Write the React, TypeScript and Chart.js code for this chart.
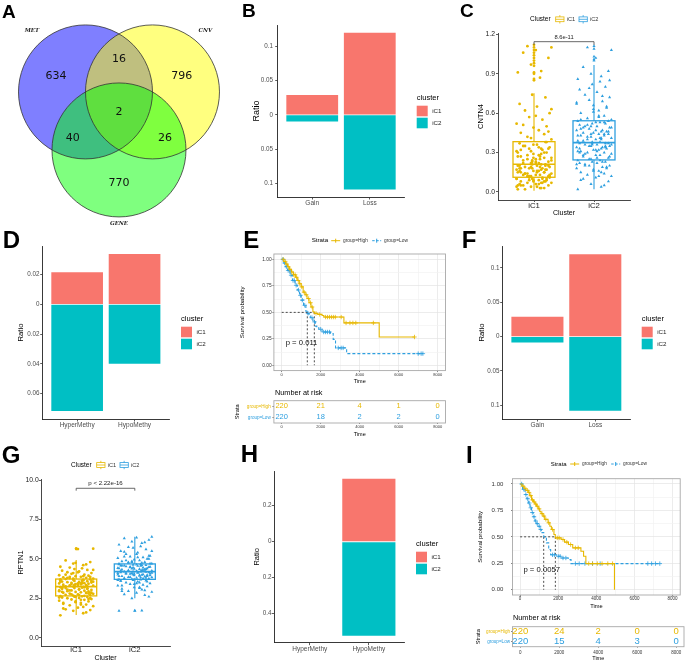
import React, { useEffect, useRef } from 'react';
import { Chart, registerables } from 'chart.js';

Chart.register(...registerables);

const FF = "'Liberation Sans', Arial, Helvetica, sans-serif";
const RED = '#F8766D';
const TEAL = '#00BFC4';
const GOLD = '#E7B800';
const BLUE = '#2E9FDF';

// ================= DATA =================
// A: Venn (regions: MET only, CNV only, GENE only, MET&CNV, MET&GENE, CNV&GENE, all three)
const vennSets = ['MET', 'CNV', 'GENE'];
const vennCounts = [634, 796, 770, 16, 40, 26, 2];

// B: CNV ratio
const bCats = ['Gain', 'Loss'];
const bIC1 = [0.029, 0.12];
const bIC2 = [-0.0095, -0.109];
const bTicks = [-0.1, -0.05, 0, 0.05, 0.1];

// C: CNTN4 expression
const clusters = ['iC1', 'iC2'];
const cIC1 = [
  0.02, 0.03, 0.04, 0.05, 0.05, 0.06, 0.07, 0.07, 0.08, 0.08, 0.09, 0.09, 0.1, 0.1, 0.1, 0.11, 0.11, 0.02, 0.04, 0.06, 0.08, 0.1, 0.03, 0.05, 0.07,
  0.12, 0.12, 0.13, 0.13, 0.14, 0.14, 0.15, 0.15, 0.16, 0.16, 0.17, 0.17, 0.18, 0.18, 0.19, 0.19, 0.2, 0.2, 0.21, 0.21, 0.13, 0.15, 0.17, 0.19, 0.2,
  0.22, 0.23, 0.24, 0.25, 0.26, 0.27, 0.28, 0.29, 0.3, 0.31, 0.32, 0.33, 0.34, 0.35, 0.36, 0.37, 0.38, 0.23, 0.25, 0.27, 0.29, 0.31, 0.33, 0.35, 0.22,
  0.4, 0.42, 0.44, 0.45, 0.47, 0.49, 0.5, 0.52, 0.55, 0.57, 0.6, 0.62, 0.65, 0.67, 0.72, 0.74, 0.87, 0.91, 0.92, 0.97, 1.02, 1.06, 1.08, 1.1, 1.11,
  0.03, 0.05, 0.06, 0.08, 0.09, 0.1, 0.11, 0.12, 0.13, 0.14, 0.15, 0.16, 0.17, 0.18, 0.19, 0.2, 0.21, 0.22, 0.23, 0.24, 0.25, 0.26, 0.28, 0.3, 0.32,
  0.34, 0.36, 0.38, 0.04, 0.07, 0.09, 0.12, 0.14, 0.16, 0.18, 0.2, 0.24, 0.27, 0.3, 0.33, 0.41, 0.46, 0.51, 0.58, 0.63, 0.12, 0.15, 0.18, 0.22, 0.26,
];
const cIC2 = [
  0.02, 0.04, 0.06, 0.08, 0.1, 0.11, 0.12, 0.13, 0.14, 0.15, 0.16, 0.17, 0.18, 0.18, 0.19, 0.2, 0.2, 0.21, 0.22, 0.22, 0.23, 0.23, 0.24, 0.24, 0.15,
  0.25, 0.26, 0.27, 0.28, 0.29, 0.3, 0.3, 0.31, 0.32, 0.32, 0.33, 0.34, 0.34, 0.35, 0.35, 0.36, 0.36, 0.37, 0.37, 0.38, 0.28, 0.31, 0.33, 0.35, 0.37,
  0.39, 0.4, 0.41, 0.42, 0.43, 0.43, 0.44, 0.45, 0.46, 0.47, 0.47, 0.48, 0.49, 0.5, 0.5, 0.51, 0.52, 0.52, 0.53, 0.54, 0.41, 0.44, 0.46, 0.49, 0.53,
  0.55, 0.56, 0.58, 0.6, 0.62, 0.63, 0.65, 0.67, 0.69, 0.7, 0.72, 0.74, 0.76, 0.78, 0.8, 0.82, 0.84, 0.86, 0.88, 0.9, 0.92, 0.95, 1.02, 1.08, 1.1,
  0.05, 0.09, 0.12, 0.16, 0.19, 0.21, 0.23, 0.25, 0.27, 0.29, 0.31, 0.33, 0.35, 0.36, 0.38, 0.39, 0.4, 0.42, 0.44, 0.45, 0.47, 0.49, 0.51, 0.53, 0.55,
  0.58, 0.61, 0.64, 0.68, 0.73, 0.79, 0.85, 0.2, 0.26, 0.3, 0.34, 0.37, 0.41, 0.43, 0.46, 0.5, 0.54, 0.28, 0.32, 0.36, 0.4, 0.44, 0.48, 0.57, 0.66,
];
const cOut1 = [0.85, 0.86, 0.9, 0.91, 0.96, 0.98, 1.0, 1.02, 1.04, 1.06, 1.08, 1.1, 1.12];
const cOut2 = [1.0, 1.01, 1.03, 1.09, 1.11];
const cBox1 = [0.01, 0.112, 0.211, 0.383, 0.751]; // lower whisker, Q1, median, Q3, upper whisker
const cBox2 = [0.02, 0.244, 0.376, 0.542, 0.967];
const cTicks = [0, 0.3, 0.6, 0.9, 1.2];
const cPval = '8.6e-11';

// D: methylation ratio
const dCats = ['HyperMethy', 'HypoMethy'];
const dIC1 = [0.0217, 0.0339];
const dIC2 = [-0.0718, -0.04];
const dTicks = [-0.06, -0.04, -0.02, 0, 0.02];

// E: survival
const strata = ['group=High', 'group=Low'];
const eHighT = [0, 100, 200, 300, 400, 500, 600, 700, 800, 900, 1000, 1100, 1200, 1300, 1400, 1500, 1600, 1670, 1850, 2070, 2160, 3190, 5000, 6810];
const eHighS = [1, 0.98, 0.955, 0.93, 0.905, 0.88, 0.855, 0.83, 0.8, 0.77, 0.74, 0.69, 0.665, 0.63, 0.59, 0.55, 0.505, 0.49, 0.48, 0.47, 0.455, 0.4, 0.267, 0.267];
const eLowT = [0, 100, 200, 300, 430, 550, 690, 800, 915, 1000, 1120, 1240, 1310, 1400, 1465, 1600, 1724, 1800, 1900, 2070, 2500, 2640, 2760, 3330, 7240];
const eLowS = [1, 0.965, 0.93, 0.895, 0.85, 0.8, 0.755, 0.71, 0.66, 0.615, 0.566, 0.51, 0.49, 0.465, 0.45, 0.41, 0.37, 0.355, 0.34, 0.314, 0.3, 0.245, 0.164, 0.11, 0.11];
const eHighCens = [80, 180, 260, 340, 420, 520, 610, 690, 760, 850, 930, 1030, 1150, 1260, 1380, 1480, 1560, 1760, 1950, 2250, 2350, 2450, 2550, 2650, 2750, 3050, 3300, 3500, 3650, 3800, 4700, 6810];
const eLowCens = [60, 150, 240, 330, 390, 480, 580, 650, 740, 860, 960, 1060, 1180, 1350, 1550, 1680, 2000, 2150, 2250, 2350, 2450, 2900, 3050, 3150, 7000, 7150, 7240];
const ePval = 'p = 0.011';
const riskTimes = [0, 2000, 4000, 6000, 8000];
const eRiskHigh = [220, 21, 4, 1, 0];
const eRiskLow = [220, 18, 2, 2, 0];

// F: CNV ratio
const fCats = ['Gain', 'Loss'];
const fIC1 = [0.029, 0.12];
const fIC2 = [-0.0087, -0.108];
const fTicks = [-0.1, -0.05, 0, 0.05, 0.1];

// G: RFTN1 expression
const gIC1 = [
  1.42, 1.55, 1.7, 1.75, 1.8, 1.9, 2.0, 2.05, 2.1, 2.15, 2.2, 2.25, 2.3, 2.35, 2.4, 2.42, 2.45, 2.5, 2.52, 2.55, 2.58, 2.6, 2.62, 2.64, 1.95,
  2.67, 2.7, 2.72, 2.75, 2.78, 2.8, 2.83, 2.85, 2.88, 2.9, 2.93, 2.95, 2.98, 3.0, 3.03, 3.05, 3.08, 3.1, 3.12, 3.15, 3.17, 3.2, 3.22, 3.24, 2.86,
  3.26, 3.28, 3.3, 3.32, 3.34, 3.36, 3.38, 3.4, 3.42, 3.44, 3.46, 3.48, 3.5, 3.52, 3.54, 3.56, 3.58, 3.6, 3.62, 3.64, 3.66, 3.68, 3.7, 3.72, 3.45,
  3.75, 3.78, 3.8, 3.83, 3.86, 3.9, 3.93, 3.96, 4.0, 4.05, 4.1, 4.15, 4.2, 4.25, 4.3, 4.35, 4.4, 4.5, 4.6, 4.7, 4.8, 4.9, 5.62, 5.65, 3.85,
  1.6, 1.85, 2.1, 2.3, 2.45, 2.55, 2.65, 2.75, 2.85, 2.95, 3.05, 3.15, 3.25, 3.35, 3.45, 3.55, 3.65, 3.75, 3.85, 4.0, 4.15, 4.3, 4.45, 4.65, 2.2,
  2.4, 2.6, 2.8, 3.0, 3.2, 3.4, 3.6, 3.8, 2.7, 2.9, 3.1, 3.3, 3.5, 3.7, 3.9, 4.1, 2.5, 3.15, 3.35, 3.55, 3.0, 2.85, 3.25, 3.45, 4.75,
];
const gIC2 = [
  1.7, 1.72, 2.5, 2.6, 2.75, 2.85, 2.9, 2.95, 3.0, 3.1, 3.15, 3.2, 3.25, 3.3, 3.35, 3.4, 3.45, 3.5, 3.55, 3.6, 3.62, 3.65, 3.68, 3.7, 3.05,
  3.72, 3.75, 3.78, 3.8, 3.83, 3.85, 3.88, 3.9, 3.92, 3.95, 3.97, 4.0, 4.02, 4.05, 4.07, 4.1, 4.12, 4.15, 4.17, 4.19, 3.82, 3.9, 3.98, 4.08, 4.14,
  4.2, 4.22, 4.25, 4.27, 4.3, 4.32, 4.35, 4.37, 4.4, 4.42, 4.45, 4.47, 4.5, 4.52, 4.55, 4.57, 4.6, 4.62, 4.65, 4.68, 4.28, 4.38, 4.48, 4.58, 4.64,
  4.7, 4.75, 4.8, 4.85, 4.9, 4.95, 5.0, 5.05, 5.1, 5.15, 5.2, 5.3, 5.4, 5.5, 5.6, 5.7, 5.8, 5.9, 6.0, 6.1, 6.2, 6.3, 6.35, 6.4, 4.78,
  2.7, 2.95, 3.2, 3.4, 3.55, 3.65, 3.75, 3.85, 3.95, 4.05, 4.15, 4.25, 4.35, 4.45, 4.55, 4.65, 4.75, 4.85, 5.0, 5.15, 5.3, 5.5, 5.75, 6.05, 3.3,
  3.5, 3.7, 3.9, 4.1, 4.3, 4.5, 4.7, 4.9, 5.1, 3.6, 3.8, 4.0, 4.2, 4.4, 4.6, 4.8, 5.2, 5.45, 3.45, 4.12, 4.22, 4.33, 4.57, 3.98, 4.05,
];
const gOut1 = [5.62, 5.66];
const gOut2 = [1.7, 1.72];
const gBox1 = [1.44, 2.65, 3.24, 3.72, 4.93];
const gBox2 = [2.5, 3.7, 4.19, 4.68, 6.4];
const gTicks = [0, 2.5, 5, 7.5, 10];
const gPval = 'p < 2.22e-16';

// H: methylation ratio
const hCats = ['HyperMethy', 'HypoMethy'];
const hIC1 = [0, 0.35];
const hIC2 = [0, -0.522];
const hTicks = [-0.4, -0.2, 0, 0.2];

// I: survival
const iHighT = [0, 100, 200, 300, 430, 500, 600, 700, 780, 860, 950, 1030, 1100, 1200, 1290, 1465, 1560, 1640, 1775, 1845, 2155, 2330, 2535, 2760, 3190, 3330, 3450, 4950];
const iHighS = [1, 0.98, 0.96, 0.94, 0.92, 0.89, 0.85, 0.83, 0.81, 0.79, 0.765, 0.74, 0.72, 0.696, 0.665, 0.633, 0.6, 0.57, 0.522, 0.49, 0.475, 0.45, 0.427, 0.396, 0.364, 0.316, 0.247, 0];
const iLowT = [0, 130, 260, 350, 430, 520, 600, 690, 775, 860, 950, 1040, 1120, 1240, 1380, 1500, 1600, 1900, 2155, 2535, 2670, 7330];
const iLowS = [1, 0.95, 0.9, 0.86, 0.82, 0.775, 0.73, 0.69, 0.65, 0.625, 0.6, 0.57, 0.54, 0.5, 0.443, 0.38, 0.33, 0.316, 0.3, 0.285, 0.247, 0.247];
const iHighCens = [150, 250, 380, 470, 560, 650, 740, 820, 900, 1000, 1150, 1250, 1350, 1500, 1700, 1950, 2050, 2250, 2450, 2650, 2900, 3050, 3600, 3800, 4050, 4300, 4600, 4850];
const iLowCens = [80, 190, 300, 400, 480, 560, 640, 730, 820, 900, 1000, 1080, 1700, 1800, 2000, 2100, 2250, 2400, 2900, 3100, 3400, 3800, 4200, 6700, 6900, 7100, 7330];
const iPval = 'p = 0.0057';
const iRiskHigh = [220, 24, 2, 0, 0];
const iRiskLow = [220, 15, 4, 3, 0];

// ================= LAYOUT CONSTANTS =================
const VENN_CENTERS = [[-0.5, 0.289], [0.5, 0.289], [0, -0.577]];
const VENN_FILLS = ['rgba(0,0,255,0.5)', 'rgba(255,255,0,0.5)', 'rgba(0,255,0,0.5)'];
const VENN_COUNT_POS = [[-0.94, 0.527], [0.936, 0.527], [0, -1.075], [0, 0.776], [-0.69, -0.394], [0.687, -0.394], [0, -0.015]];
const VENN_NAME_POS = [[-1.3, 1.2], [1.29, 1.2], [0, -1.67]];
const JIT = [-0.27, 0.12, -0.05, 0.24, -0.18, 0.03, 0.29, -0.11, 0.17, -0.22, 0.08, -0.01, 0.21, -0.29, 0.14, -0.08, 0.26, -0.15, 0.05, -0.24, 0.19, -0.03, 0.1];
const KM_X_GRID = [0, 1000, 2000, 3000, 4000, 5000, 6000, 7000, 8000];
const KM_Y_GRID = [0, 0.125, 0.25, 0.375, 0.5, 0.625, 0.75, 0.875, 1];

// ================= HELPERS =================
function drawText(ctx: any, s: string, x: number, y: number, size: number, color: string, align = 'left', font = '') {
  ctx.font = font || `${size}px ${FF}`;
  ctx.fillStyle = color;
  ctx.textAlign = align;
  ctx.textBaseline = 'middle';
  ctx.fillText(s, x, y);
}

function letterPlugin(text: string, x: number, y: number, size: number) {
  return {
    id: 'panelLetter',
    afterDraw(chart: any) {
      const ctx = chart.ctx;
      ctx.save();
      drawText(ctx, text, x, y, size, '#000', 'left', `bold ${size}px ${FF}`);
      ctx.restore();
    },
  };
}

function clusterLegend(x: number, y: number) {
  return {
    id: 'clusterLegend',
    afterDraw(chart: any) {
      const ctx = chart.ctx;
      ctx.save();
      drawText(ctx, 'cluster', x, y, 7.6, '#000');
      chart.data.datasets.forEach((ds: any, i: number) => {
        const top = y + 7.7 + i * 12;
        ctx.fillStyle = ds.backgroundColor;
        ctx.fillRect(x, top, 11, 10.6);
        drawText(ctx, ds.label, x + 15.5, top + 5.3, 6.2, '#222');
      });
      ctx.restore();
    },
  };
}

function barConfig(p: any) {
  const fmtAbs = (v: number) => {
    const a = Math.abs(v);
    return a < 1e-9 ? '0' : String(+a.toFixed(4));
  };
  const mk = (vals: number[]) => p.cats.map((_: string, i: number) => ({ x: i + 1, y: vals[i] }));
  return {
    type: 'bar',
    data: {
      datasets: [
        { label: clusters[0], data: mk(p.ic1), backgroundColor: RED, borderWidth: 0, barPercentage: 0.9, categoryPercentage: 1 },
        { label: clusters[1], data: mk(p.ic2), backgroundColor: TEAL, borderWidth: 0, barPercentage: 0.9, categoryPercentage: 1 },
      ],
    },
    options: {
      responsive: false,
      animation: false,
      events: [],
      layout: { padding: { left: 0, top: p.T, right: p.cw - p.R, bottom: 0 } },
      plugins: { legend: { display: false }, tooltip: { enabled: false } },
      scales: {
        x: {
          type: 'linear', min: 0.4, max: p.cats.length + 0.6, offset: false, stacked: true,
          afterBuildTicks: (s: any) => { s.ticks = p.cats.map((_: string, i: number) => ({ value: i + 1 })); },
          afterFit: (s: any) => { s.height = p.ch - p.B; },
          grid: { offset: false, drawOnChartArea: false, color: '#333', tickLength: 2.5, lineWidth: 0.8 },
          border: { display: true, color: '#222', width: 0.9 },
          ticks: {
            autoSkip: false, maxRotation: 0, padding: p.xPad, color: '#4D4D4D',
            font: { family: FF, size: 6.5 },
            callback: (v: number) => p.cats[Math.round(v) - 1] ?? '',
          },
        },
        y: {
          min: p.min, max: p.max, stacked: true,
          afterBuildTicks: (s: any) => { s.ticks = p.ticks.map((v: number) => ({ value: v })); },
          afterFit: (s: any) => { s.width = p.L; },
          grid: { drawOnChartArea: false, color: '#333', tickLength: 2.5, lineWidth: 0.8 },
          border: { display: true, color: '#222', width: 0.9 },
          ticks: { padding: p.yPad, color: '#4D4D4D', font: { family: FF, size: 6.3 }, callback: (v: number) => fmtAbs(v) },
          title: { display: true, text: 'Ratio', color: '#000', font: { family: FF, size: p.titleFont }, padding: { top: p.titlePad, bottom: 0 } },
        },
      },
    },
    plugins: [letterPlugin(p.letter, p.lx, p.ly, p.ls), clusterLegend(p.legX, p.legY)],
  };
}

function boxLegend(x0: number, y: number) {
  return {
    id: 'boxLegend',
    afterDraw(chart: any) {
      const ctx = chart.ctx;
      ctx.save();
      drawText(ctx, 'Cluster', x0, y, 6.5, '#000');
      [GOLD, BLUE].forEach((col, i) => {
        const ix = x0 + 25.7 + i * 23.3;
        ctx.strokeStyle = col;
        ctx.lineWidth = 0.8;
        ctx.strokeRect(ix, y - 2.4, 8.3, 4.8);
        ctx.beginPath();
        ctx.moveTo(ix, y); ctx.lineTo(ix + 8.3, y);
        ctx.moveTo(ix + 4.15, y - 2.4); ctx.lineTo(ix + 4.15, y - 4.2);
        ctx.moveTo(ix + 4.15, y + 2.4); ctx.lineTo(ix + 4.15, y + 4.2);
        ctx.stroke();
        drawText(ctx, clusters[i], ix + 11, y, 5.6, '#333');
      });
      ctx.restore();
    },
  };
}

function boxPlugin(p: any) {
  return {
    id: 'boxes',
    beforeDatasetsDraw(chart: any) {
      const { ctx } = chart;
      const xs = chart.scales.x;
      const ys = chart.scales.y;
      ctx.save();
      [p.box1, p.box2].forEach((st: number[], i: number) => {
        const cat = i + 1;
        const col = i === 0 ? GOLD : BLUE;
        const xl = xs.getPixelForValue(cat - 0.35);
        const xr = xs.getPixelForValue(cat + 0.35);
        const xc = xs.getPixelForValue(cat);
        const [lo, q1, med, q3, hi] = st.map((v) => ys.getPixelForValue(v));
        ctx.strokeStyle = col;
        ctx.lineWidth = 1.1;
        ctx.beginPath();
        ctx.moveTo(xc, hi); ctx.lineTo(xc, q3);
        ctx.moveTo(xc, q1); ctx.lineTo(xc, lo);
        ctx.stroke();
        ctx.lineWidth = 1.3;
        ctx.strokeRect(xl, q3, xr - xl, q1 - q3);
        ctx.lineWidth = 1.7;
        ctx.beginPath();
        ctx.moveTo(xl, med); ctx.lineTo(xr, med);
        ctx.stroke();
      });
      ctx.restore();
    },
    afterDatasetsDraw(chart: any) {
      const { ctx } = chart;
      const xs = chart.scales.x;
      const ys = chart.scales.y;
      const x1 = xs.getPixelForValue(1);
      const x2 = xs.getPixelForValue(2);
      const yb = ys.getPixelForValue(p.bracketY);
      const yt = ys.getPixelForValue(p.bracketY - p.bracketTick);
      ctx.save();
      ctx.strokeStyle = '#444';
      ctx.lineWidth = 0.8;
      ctx.beginPath();
      ctx.moveTo(x1, yt); ctx.lineTo(x1, yb); ctx.lineTo(x2, yb); ctx.lineTo(x2, yt);
      ctx.stroke();
      drawText(ctx, p.pval, (x1 + x2) / 2, yb - p.pOff, p.pSize, '#222', 'center');
      ctx.restore();
    },
  };
}

function boxConfig(p: any) {
  const pts = (vals: number[], cat: number) => vals.map((v, i) => ({ x: cat + JIT[i % JIT.length], y: v }));
  const base = { borderWidth: 0, showLine: false };
  return {
    type: 'scatter',
    data: {
      datasets: [
        { ...base, label: clusters[0], data: pts(p.v1, 1), pointStyle: 'circle', pointRadius: p.pr, backgroundColor: GOLD },
        { ...base, label: clusters[1], data: pts(p.v2, 2), pointStyle: 'triangle', pointRadius: p.pr + 0.4, backgroundColor: BLUE },
        { ...base, label: 'out1', data: p.o1.map((v: number) => ({ x: 1, y: v })), pointStyle: 'circle', pointRadius: p.pr, backgroundColor: GOLD },
        { ...base, label: 'out2', data: p.o2.map((v: number) => ({ x: 2, y: v })), pointStyle: 'triangle', pointRadius: p.pr + 0.4, backgroundColor: BLUE },
      ],
    },
    options: {
      responsive: false,
      animation: false,
      events: [],
      layout: { padding: { left: 0, top: p.T, right: p.cw - p.R, bottom: 0 } },
      plugins: { legend: { display: false }, tooltip: { enabled: false } },
      scales: {
        x: {
          type: 'linear', min: 0.4, max: 2.6,
          afterBuildTicks: (s: any) => { s.ticks = [{ value: 1 }, { value: 2 }]; },
          afterFit: (s: any) => { s.height = p.ch - p.B; },
          grid: { drawOnChartArea: false, color: '#333', tickLength: 2, lineWidth: 0.8 },
          border: { display: true, color: '#333', width: 0.9 },
          ticks: {
            autoSkip: false, maxRotation: 0, padding: p.xPad, color: '#222',
            font: { family: FF, size: 7.8 },
            callback: (v: number) => clusters[Math.round(v) - 1] ?? '',
          },
          title: { display: true, text: 'Cluster', color: '#000', font: { family: FF, size: 7 }, padding: { top: 0, bottom: p.xTitlePad } },
        },
        y: {
          type: 'linear', min: p.min, max: p.max,
          afterBuildTicks: (s: any) => { s.ticks = p.ticks.map((v: number) => ({ value: v })); },
          afterFit: (s: any) => { s.width = p.L; },
          grid: { drawOnChartArea: false, color: '#333', tickLength: 2, lineWidth: 0.8 },
          border: { display: true, color: '#333', width: 0.9 },
          ticks: { padding: p.yPad, color: '#222', font: { family: FF, size: 6.8 }, callback: (v: number) => v.toFixed(1) },
          title: { display: true, text: p.yTitle, color: '#000', font: { family: FF, size: 7.5 }, padding: { top: p.yTitlePad, bottom: 0 } },
        },
      },
    },
    plugins: [boxPlugin(p), letterPlugin(p.letter, p.lx, p.ly, p.ls), boxLegend(p.legX, p.legY)],
  };
}

function strataLegend(x0: number, y: number, titleSize: number) {
  return {
    id: 'strataLegend',
    afterDraw(chart: any) {
      const ctx = chart.ctx;
      ctx.save();
      drawText(ctx, 'Strata', x0, y, titleSize, '#000');
      [GOLD, BLUE].forEach((col, i) => {
        const lx = x0 + 19.5 + i * 41;
        ctx.strokeStyle = col;
        ctx.lineWidth = 1;
        ctx.setLineDash(i === 1 ? [2.5, 1.5] : []);
        ctx.beginPath();
        ctx.moveTo(lx, y); ctx.lineTo(lx + 9, y);
        ctx.stroke();
        ctx.setLineDash([]);
        ctx.beginPath();
        ctx.moveTo(lx + 4.5, y - 2); ctx.lineTo(lx + 4.5, y + 2);
        ctx.stroke();
        drawText(ctx, strata[i], lx + 11.8, y, 4.8, '#333');
      });
      ctx.restore();
    },
  };
}

function kmConfig(p: any) {
  const stepAt = (ts: number[], ss: number[], t: number) => {
    let v = ss[0];
    ts.forEach((ti, i) => { if (ti <= t) v = ss[i]; });
    return v;
  };
  const median = (ts: number[], ss: number[]) => ts[ss.findIndex((s) => s <= 0.5)];
  const mH = median(p.hT, p.hS);
  const mL = median(p.lT, p.lS);
  const dashed = { type: 'line', borderColor: '#222', borderWidth: 0.8, borderDash: [2, 2], pointRadius: 0, fill: false };
  const majorX = (c: any) => c.tick && Math.round(c.tick.value / 1000) % 2 === 0;
  const majorY = (c: any) => c.tick && Math.round(c.tick.value * 8) % 2 === 0;
  return {
    type: 'line',
    data: {
      datasets: [
        { label: strata[0], data: p.hT.map((t: number, i: number) => ({ x: t, y: p.hS[i] })), borderColor: GOLD, borderWidth: 1.1, stepped: true, pointRadius: 0, fill: false },
        { label: strata[1], data: p.lT.map((t: number, i: number) => ({ x: t, y: p.lS[i] })), borderColor: BLUE, borderWidth: 1.1, borderDash: [3, 2], stepped: true, pointRadius: 0, fill: false },
        { type: 'scatter', label: 'censH', data: p.hC.map((t: number) => ({ x: t, y: stepAt(p.hT, p.hS, t) })), pointStyle: 'cross', pointRadius: 2.2, borderColor: GOLD, borderWidth: 0.8, backgroundColor: GOLD },
        { type: 'scatter', label: 'censL', data: p.lC.map((t: number) => ({ x: t, y: stepAt(p.lT, p.lS, t) })), pointStyle: 'cross', pointRadius: 2.2, borderColor: BLUE, borderWidth: 0.8, backgroundColor: BLUE },
        { ...dashed, label: 'm0', data: [{ x: 0, y: 0.5 }, { x: Math.max(mH, mL), y: 0.5 }] },
        { ...dashed, label: 'm1', data: [{ x: mH, y: 0.5 }, { x: mH, y: 0 }] },
        { ...dashed, label: 'm2', data: [{ x: mL, y: 0.5 }, { x: mL, y: 0 }] },
      ],
    },
    options: {
      responsive: false,
      animation: false,
      events: [],
      layout: { padding: { left: 0, top: p.T, right: p.cw - p.R, bottom: 0 } },
      plugins: { legend: { display: false }, tooltip: { enabled: false } },
      scales: {
        x: {
          type: 'linear', min: -400, max: 8400,
          afterBuildTicks: (s: any) => { s.ticks = KM_X_GRID.map((v) => ({ value: v })); },
          afterFit: (s: any) => { s.height = p.ch - p.B; },
          grid: {
            color: (c: any) => (majorX(c) ? '#E4E4E4' : '#F2F2F2'), lineWidth: 0.7, tickLength: 1.5,
            tickColor: (c: any) => (majorX(c) ? '#555' : 'rgba(0,0,0,0)'),
          },
          border: { display: false },
          ticks: {
            autoSkip: false, maxRotation: 0, padding: p.xPad, color: '#333',
            font: { family: FF, size: p.xFont },
            callback: (v: number) => (Math.round(v / 1000) % 2 === 0 ? String(v) : ''),
          },
          title: { display: true, text: 'Time', color: '#000', font: { family: FF, size: p.timeFont }, padding: { top: 0, bottom: p.timePad } },
        },
        y: {
          type: 'linear', min: -0.05, max: 1.05,
          afterBuildTicks: (s: any) => { s.ticks = KM_Y_GRID.map((v) => ({ value: v })); },
          afterFit: (s: any) => { s.width = p.L; },
          grid: {
            color: (c: any) => (majorY(c) ? '#E4E4E4' : '#F2F2F2'), lineWidth: 0.7, tickLength: 1.5,
            tickColor: (c: any) => (majorY(c) ? '#555' : 'rgba(0,0,0,0)'),
          },
          border: { display: false },
          ticks: { padding: p.yPad, color: '#333', font: { family: FF, size: p.yFont }, callback: (v: number) => (Math.round(v * 8) % 2 === 0 ? v.toFixed(2) : '') },
          title: { display: true, text: 'Survival probability', color: '#000', font: { family: FF, size: 6.2 }, padding: { top: p.yTitlePad, bottom: 0 } },
        },
      },
    },
    plugins: [
      {
        id: 'kmExtras',
        afterDatasetsDraw(chart: any) {
          const { ctx, chartArea: a, scales } = chart;
          ctx.save();
          ctx.strokeStyle = '#A8A8A8';
          ctx.lineWidth = 0.9;
          ctx.strokeRect(a.left, a.top, a.right - a.left, a.bottom - a.top);
          drawText(ctx, p.pval, scales.x.getPixelForValue(p.pX), scales.y.getPixelForValue(p.pY), 7.7, '#111');
          ctx.restore();
        },
      },
      letterPlugin(p.letter, p.lx, p.ly, p.ls),
      strataLegend(p.legX, p.legY, p.legSize),
    ],
  };
}

function riskConfig(p: any) {
  return {
    type: 'scatter',
    data: { datasets: [{ label: 'risk', data: [] }] },
    options: {
      responsive: false,
      animation: false,
      events: [],
      layout: { padding: { left: 0, top: p.T, right: p.cw - p.R, bottom: 0 } },
      plugins: { legend: { display: false }, tooltip: { enabled: false } },
      scales: {
        x: {
          type: 'linear', min: -400, max: 8400,
          afterBuildTicks: (s: any) => { s.ticks = riskTimes.map((v) => ({ value: v })); },
          afterFit: (s: any) => { s.height = p.ch - p.B; },
          grid: { drawOnChartArea: false, color: '#555', tickLength: 1, lineWidth: 0.7 },
          border: { display: false },
          ticks: { autoSkip: false, maxRotation: 0, padding: p.xPad, color: '#333', font: { family: FF, size: p.xFont }, callback: (v: number) => String(v) },
          title: { display: true, text: 'Time', color: '#000', font: { family: FF, size: p.timeFont }, padding: { top: 0, bottom: p.timePad } },
        },
        y: {
          type: 'category', labels: strata, offset: true,
          afterFit: (s: any) => { s.width = p.L; },
          grid: { drawOnChartArea: false, color: '#555', tickLength: 1.5, lineWidth: 0.7, offset: false },
          border: { display: false },
          ticks: { padding: p.yPad, color: (c: any) => [GOLD, BLUE][c.index], font: { family: FF, size: 4.6 } },
          title: { display: true, text: 'Strata', color: '#000', font: { family: FF, size: 5.6 }, padding: { top: p.yTitlePad, bottom: 0 } },
        },
      },
    },
    plugins: [
      {
        id: 'riskTable',
        afterDraw(chart: any) {
          const { ctx, chartArea: a, scales } = chart;
          ctx.save();
          ctx.strokeStyle = '#A8A8A8';
          ctx.lineWidth = 0.9;
          ctx.strokeRect(a.left, a.top, a.right - a.left, a.bottom - a.top);
          drawText(ctx, 'Number at risk', p.nX, p.nY, 7.3, '#000');
          [p.high, p.low].forEach((row: number[], r: number) => {
            row.forEach((n, j) => {
              drawText(ctx, String(n), scales.x.getPixelForValue(riskTimes[j]), scales.y.getPixelForValue(r), p.valSize, r === 0 ? GOLD : BLUE, 'center');
            });
          });
          ctx.restore();
        },
      },
    ],
  };
}

function vennConfig() {
  const unit = (chart: any) => chart.scales.x.getPixelForValue(1) - chart.scales.x.getPixelForValue(0);
  return {
    type: 'scatter',
    data: {
      datasets: [2, 1, 0].map((i) => ({
        label: vennSets[i],
        data: [{ x: VENN_CENTERS[i][0], y: VENN_CENTERS[i][1] }],
        backgroundColor: VENN_FILLS[i],
        borderWidth: 0,
        pointRadius: (c: any) => unit(c.chart),
        pointHoverRadius: (c: any) => unit(c.chart),
      })),
    },
    options: {
      responsive: false,
      animation: false,
      events: [],
      layout: { padding: 0 },
      plugins: { legend: { display: false }, tooltip: { enabled: false } },
      scales: {
        x: { type: 'linear', display: false, min: -1.776, max: 1.657 },
        y: { type: 'linear', display: false, min: -1.772, max: 1.661 },
      },
    },
    plugins: [
      {
        id: 'vennText',
        afterDatasetsDraw(chart: any) {
          const { ctx, scales } = chart;
          ctx.save();
          chart.data.datasets.forEach((_: any, di: number) => {
            const el = chart.getDatasetMeta(di).data[0];
            ctx.beginPath();
            ctx.arc(el.x, el.y, el.options.radius, 0, Math.PI * 2);
            ctx.lineWidth = 0.8;
            ctx.strokeStyle = '#333';
            ctx.stroke();
          });
          vennCounts.forEach((c, i) => {
            drawText(ctx, String(c), scales.x.getPixelForValue(VENN_COUNT_POS[i][0]), scales.y.getPixelForValue(VENN_COUNT_POS[i][1]), 11, '#111', 'center', "11px 'DejaVu Sans', sans-serif");
          });
          vennSets.forEach((s, i) => {
            drawText(ctx, s, scales.x.getPixelForValue(VENN_NAME_POS[i][0]), scales.y.getPixelForValue(VENN_NAME_POS[i][1]), 5.5, '#222', 'center', "italic bold 5.5px 'DejaVu Serif', serif");
          });
          ctx.restore();
        },
      },
      letterPlugin('A', 2, 12.5, 19),
    ],
  };
}

// ================= CHART CONFIGS =================
const makeB = () => barConfig({ cats: bCats, ic1: bIC1, ic2: bIC2, ticks: bTicks, min: -0.12, max: 0.1315, cw: 230, ch: 212, L: 47.7, T: 25, R: 174.3, B: 197, xPad: 0, yPad: 2.2, titleFont: 9, titlePad: 21.3, letter: 'B', lx: 12, ly: 11.7, ls: 19, legX: 186.7, legY: 98 });
const makeD = () => barConfig({ cats: dCats, ic1: dIC1, ic2: dIC2, ticks: dTicks, min: -0.0772, max: 0.0393, cw: 230, ch: 202, L: 42.7, T: 18, R: 169, B: 191, xPad: 0, yPad: 0.8, titleFont: 7.7, titlePad: 16.7, letter: 'D', lx: 2.7, ly: 13, ls: 24, legX: 181, legY: 91 });
const makeF = () => barConfig({ cats: fCats, ic1: fIC1, ic2: fIC2, ticks: fTicks, min: -0.12, max: 0.132, cw: 225, ch: 202, L: 42.7, T: 18, R: 170, B: 191, xPad: 0, yPad: 0.8, titleFont: 7.7, titlePad: 17.4, letter: 'F', lx: 1.7, ly: 13, ls: 24, legX: 181.7, legY: 91 });
const makeH = () => barConfig({ cats: hCats, ic1: hIC1, ic2: hIC2, ticks: hTicks, min: -0.561, max: 0.393, cw: 230, ch: 222, L: 44.3, T: 31, R: 174.3, B: 202.7, xPad: 0.2, yPad: 0.3, titleFont: 7.5, titlePad: 22.5, letter: 'H', lx: 10.7, ly: 15.8, ls: 24, legX: 186, legY: 104 });

const makeC = () => boxConfig({ v1: cIC1, v2: cIC2, o1: cOut1, o2: cOut2, box1: cBox1, box2: cBox2, ticks: cTicks, min: -0.061, max: 1.21, cw: 225, ch: 218, L: 38, T: 33, R: 170, B: 200, xPad: -0.8, xTitlePad: 0.8, yPad: 1, yTitle: 'CNTN4', yTitlePad: 16.2, pr: 1.4, bracketY: 1.144, bracketTick: 0.025, pval: cPval, pOff: 4.4, pSize: 5.8, letter: 'C', lx: 0, ly: 12, ls: 19, legX: 70, legY: 19.3 });
const makeG = () => boxConfig({ v1: gIC1, v2: gIC2, o1: gOut1, o2: gOut2, box1: gBox1, box2: gBox2, ticks: gTicks, min: -0.53, max: 10.07, cw: 230, ch: 222, L: 41, T: 39, R: 170, B: 206, xPad: -2.8, xTitlePad: 0, yPad: 0.3, yTitle: 'RFTN1', yTitlePad: 16.7, pr: 1.4, bracketY: 9.48, bracketTick: 0.15, pval: gPval, pOff: 5, pSize: 6.1, letter: 'G', lx: 1.7, ly: 16.7, ls: 24, legX: 71, legY: 25 });

const makeE = () => kmConfig({ hT: eHighT, hS: eHighS, lT: eLowT, lS: eLowS, hC: eHighCens, lC: eLowCens, pval: ePval, pX: 205, pY: 0.213, cw: 230, ch: 160, L: 43.9, T: 26, R: 215.5, B: 142.6, xPad: 0.2, xFont: 4, timeFont: 5.5, timePad: 3, yPad: 0.7, yFont: 4.8, yTitlePad: 8.8, letter: 'E', lx: 13.3, ly: 13.7, ls: 24, legX: 81.7, legY: 12.7, legSize: 6.2 });
const makeI = () => kmConfig({ hT: iHighT, hS: iHighS, lT: iLowT, lS: iLowS, hC: iHighCens, lC: iLowCens, pval: iPval, pX: 174, pY: 0.19, cw: 225, ch: 172, L: 52.5, T: 38.7, R: 224, B: 155, xPad: 0, xFont: 4.5, timeFont: 5.7, timePad: 2.6, yPad: 7.7, yFont: 6, yTitlePad: 16.8, letter: 'I', lx: 6, ly: 16.7, ls: 24, legX: 90.7, legY: 24, legSize: 6 });
const makeERisk = () => riskConfig({ high: eRiskHigh, low: eRiskLow, cw: 230, ch: 54, L: 43.9, T: 14.7, R: 215.5, B: 37, xPad: 0.9, xFont: 4, timeFont: 5.5, timePad: 2.4, yPad: 1.7, yTitlePad: 3.8, nX: 45, nY: 7, valSize: 7.5 });
const makeIRisk = () => riskConfig({ high: iRiskHigh, low: iRiskLow, cw: 225, ch: 50, L: 52.5, T: 14.7, R: 224, B: 34.7, xPad: 1.9, xFont: 4.5, timeFont: 5.5, timePad: 0.4, yPad: 1, yTitlePad: 14.9, nX: 53, nY: 6.3, valSize: 9.5 });

// ================= COMPONENTS =================
function ChartBox({ left, top, width, height, make }: any) {
  const ref = useRef<HTMLCanvasElement>(null);
  useEffect(() => {
    const chart = new Chart(ref.current as HTMLCanvasElement, make());
    return () => chart.destroy();
  }, []);
  return (
    <div style={{ position: 'absolute', left, top, width, height }}>
      <canvas ref={ref} width={width} height={height} style={{ display: 'block', width, height }} />
    </div>
  );
}

export default function App() {
  return (
    <div style={{ position: 'absolute', left: 0, top: 0, width: 685, height: 662, background: '#fff', overflow: 'hidden' }}>
      <ChartBox left={0} top={0} width={230} height={230} make={vennConfig} />
      <ChartBox left={230} top={0} width={230} height={212} make={makeB} />
      <ChartBox left={460} top={0} width={225} height={218} make={makeC} />
      <ChartBox left={0} top={228} width={230} height={202} make={makeD} />
      <ChartBox left={230} top={228} width={230} height={160} make={makeE} />
      <ChartBox left={230} top={386} width={230} height={54} make={makeERisk} />
      <ChartBox left={460} top={228} width={225} height={202} make={makeF} />
      <ChartBox left={0} top={440} width={230} height={222} make={makeG} />
      <ChartBox left={230} top={440} width={230} height={222} make={makeH} />
      <ChartBox left={460} top={440} width={225} height={172} make={makeI} />
      <ChartBox left={460} top={612} width={225} height={50} make={makeIRisk} />
    </div>
  );
}
